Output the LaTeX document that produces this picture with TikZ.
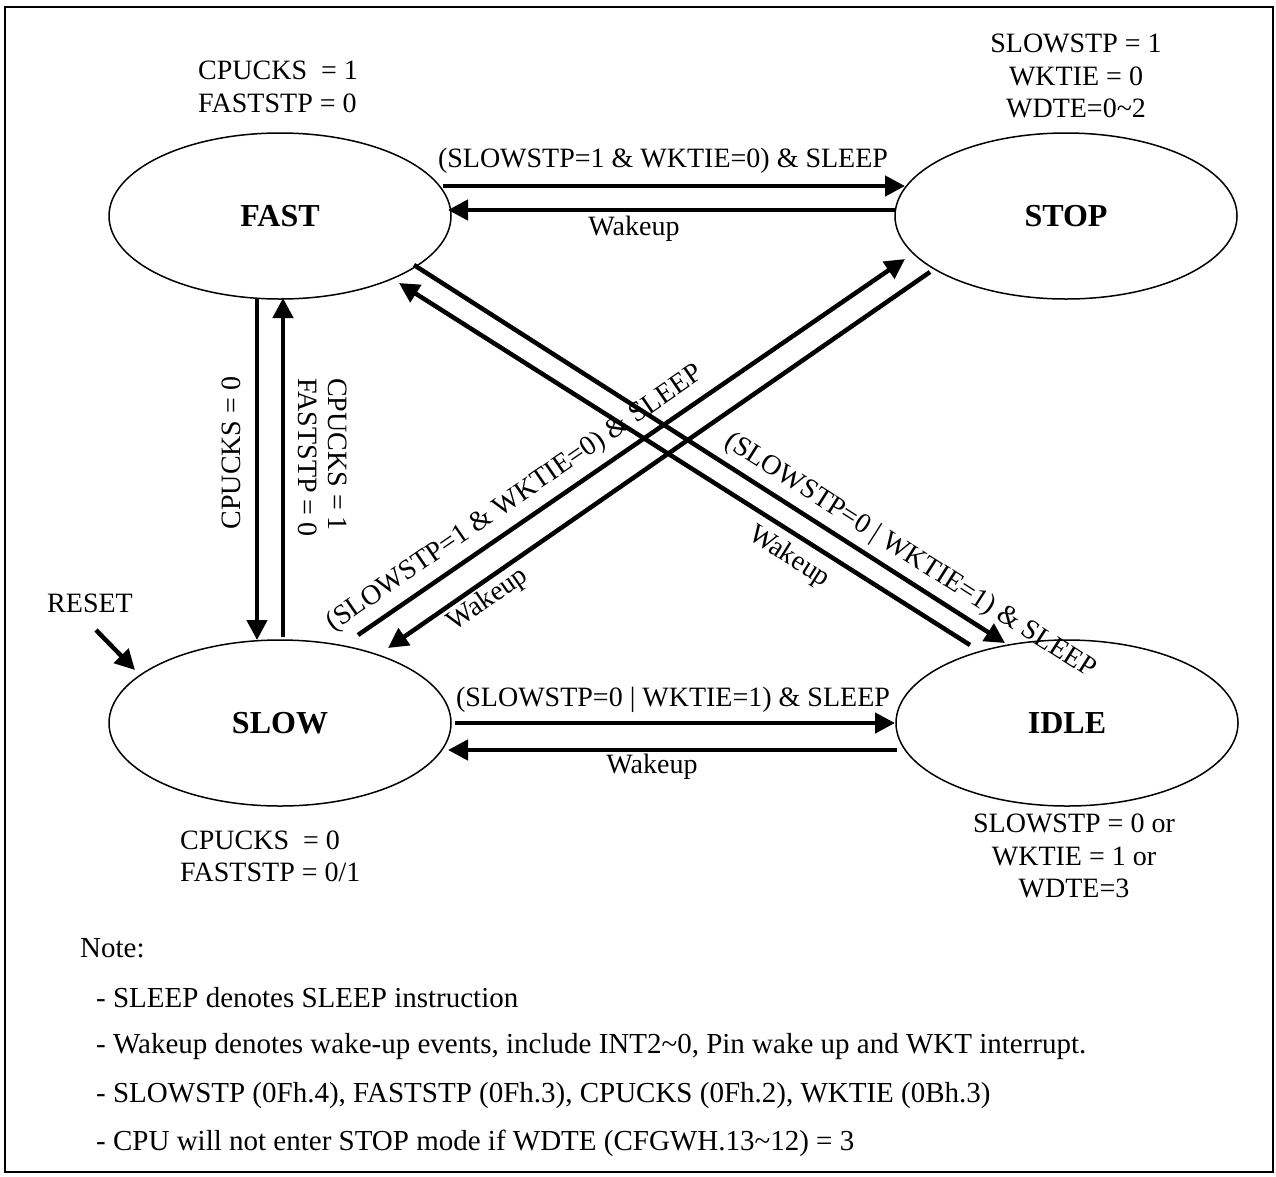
\documentclass[tikz,border=0pt]{standalone}
\usepackage{fontspec}
\setmainfont{Liberation Serif}
\usetikzlibrary{shapes.geometric,arrows.meta,calc}

\begin{document}
\begin{tikzpicture}[x=1pt,y=-1pt,
  state/.style={draw, ellipse, line width=1.5pt, minimum width=342pt,
    minimum height=166pt, inner sep=0pt, outer sep=0pt,
    font=\fontsize{32}{36}\selectfont\bfseries},
  lbl/.style={inner sep=0pt, font=\fontsize{28}{33}\selectfont},
  note/.style={inner sep=0pt, anchor=base west, font=\fontsize{29}{34}\selectfont},
  trans/.style={line width=4.5pt, -{Triangle[length=20pt,width=20pt]}}]

\useasboundingbox (0,0) rectangle (1276,1176);
\draw[line width=2.5pt] (5,7) rectangle (1273,1172);

% power-mode states
\node[state] (FAST) at (280,216) {FAST};
\node[state] (STOP) at (1066,216) {STOP};
\node[state] (SLOW) at (280,723) {SLOW};
\node[state] (IDLE) at (1067,723) {IDLE};

% register settings for each state
\node[lbl, align=left, anchor=west] (fastcond) at (198,86.5) {CPUCKS~~= 1\\FASTSTP = 0};
\node[lbl, align=center, font=\fontsize{28}{32.5}\selectfont] (stopcond) at (1076,76)
  {SLOWSTP = 1\\WKTIE = 0\\WDTE=0\textasciitilde 2};
\node[lbl, align=left, anchor=west, font=\fontsize{28}{32}\selectfont] (slowcond) at (180,856)
  {CPUCKS~~= 0\\FASTSTP = 0/1};
\node[lbl, align=center, font=\fontsize{28}{32.5}\selectfont] (idlecond) at (1074,856)
  {SLOWSTP = 0 or\\WKTIE = 1 or\\WDTE=3};

% FAST <-> STOP
\draw[trans] ($(FAST.center)+(163,-30)$) -- ($(STOP.center)+(-161,-30)$);
\draw[trans] ($(STOP.center)+(-171,-6)$) -- ($(FAST.center)+(168,-6)$);
\node[lbl] (fs) at (663,161) {(SLOWSTP=1 \& WKTIE=0) \& SLEEP};
\node[lbl] (sf) at (634,229) {Wakeup};

% FAST <-> SLOW
\draw[trans] ($(FAST.center)+(-23,82)$) -- ($(SLOW.center)+(-23,-83)$);
\draw[trans] ($(SLOW.center)+(3,-86)$) -- ($(FAST.center)+(3,82)$);
\node[lbl, rotate=90] (fl) at (231,453) {CPUCKS = 0};
\node[lbl, rotate=-90, align=left, anchor=north west, font=\fontsize{28}{30}\selectfont]
  (lf) at (347,378) {CPUCKS = 1\\FASTSTP = 0};

% SLOW <-> IDLE
\draw[trans] ($(SLOW.center)+(175,0)$) -- ($(IDLE.center)+(-172,0)$);
\draw[trans] ($(IDLE.center)+(-170,27)$) -- ($(SLOW.center)+(168,27)$);
\node[lbl] (li) at (673,700) {(SLOWSTP=0 | WKTIE=1) \& SLEEP};
\node[lbl] (il) at (652,767) {Wakeup};

% FAST <-> IDLE
\draw[trans] ($(FAST.center)+(134,49)$) -- ($(IDLE.center)+(-62,-80)$);
\draw[trans] ($(IDLE.center)+(-97,-78)$) -- ($(FAST.center)+(119,67)$);
\node[lbl, rotate=-32.5] (fi) at (910,556) {(SLOWSTP=0 | WKTIE=1) \& SLEEP};
\node[lbl, rotate=-32.5] (if) at (789,557) {Wakeup};

% SLOW <-> STOP
\draw[trans] ($(SLOW.center)+(78,-88)$) -- ($(STOP.center)+(-161,43)$);
\draw[trans] ($(STOP.center)+(-136,56)$) -- ($(SLOW.center)+(108,-75)$);
\node[lbl, rotate=34.5] (ls) at (515,499) {(SLOWSTP=1 \& WKTIE=0) \& SLEEP};
\node[lbl, rotate=34.5] (sl) at (488,600) {Wakeup};

% reset entry
\node[lbl] (reset) at (90,603) {RESET};
\coordinate (resetfrom) at (96,630);
\draw[trans] (resetfrom) -- ($(SLOW.center)+(-145,-53)$);

% notes
\node[note] (n0) at (80,957) {Note:};
\node[note] (n1) at (96,1007) {- SLEEP denotes SLEEP instruction};
\node[note] (n2) at (96,1053) {- Wakeup denotes wake-up events, include INT2\textasciitilde 0, Pin wake up and WKT interrupt.};
\node[note] (n3) at (96,1102) {- SLOWSTP (0Fh.4), FASTSTP (0Fh.3), CPUCKS (0Fh.2), WKTIE (0Bh.3)};
\node[note] (n4) at (96,1150) {- CPU will not enter STOP mode if WDTE (CFGWH.13\textasciitilde 12) = 3};
\end{tikzpicture}
\end{document}
